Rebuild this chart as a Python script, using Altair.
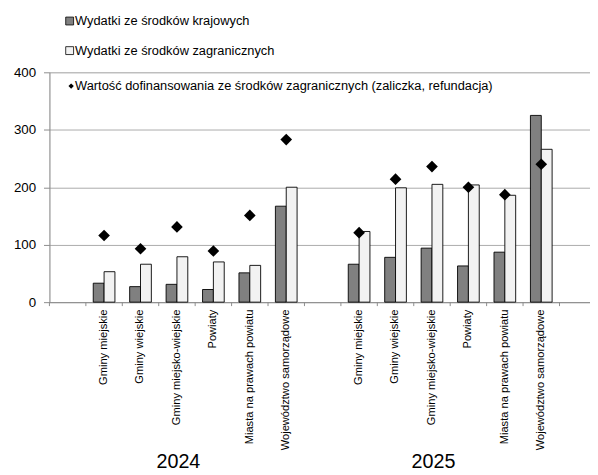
import altair as alt
import pandas as pd

# ---- data ----
categories = ["Gminy miejskie", "Gminy wiejskie", "Gminy miejsko-wiejskie",
              "Powiaty", "Miasta na prawach powiatu", "Województwo samorządowe"]
years = ["2024", "2025"]
krajowe_2024 = [33, 27, 31, 22, 51, 167]
zagraniczne_2024 = [53, 66, 79, 70, 64, 200]
dofinansowanie_2024 = [116, 93, 131, 89, 151, 283]
krajowe_2025 = [66, 78, 94, 63, 87, 325]
zagraniczne_2025 = [123, 199, 205, 204, 186, 266]
dofinansowanie_2025 = [121, 214, 236, 200, 187, 240]
series_names = ["Wydatki ze środków krajowych",
                "Wydatki ze środków zagranicznych",
                "Wartość dofinansowania ze środków zagranicznych (zaliczka, refundacja)"]
y_ticks = [0, 100, 200, 300, 400]

FONT = "Liberation Sans"
W, H = 548, 233

# slot domain: empty slot, 6 categories 2024, empty slot, 6 categories 2025, empty slot
slots = ["_0"] + [f"2024|{c}" for c in categories] + ["_1"] + \
        [f"2025|{c}" for c in categories] + ["_2"]

bars_rows = []
pts_rows = []
for yr, kr, zg, df_ in [("2024", krajowe_2024, zagraniczne_2024, dofinansowanie_2024),
                        ("2025", krajowe_2025, zagraniczne_2025, dofinansowanie_2025)]:
    for c, a, b, d in zip(categories, kr, zg, df_):
        s = f"{yr}|{c}"
        bars_rows.append({"slot": s, "series": series_names[0], "value": a})
        bars_rows.append({"slot": s, "series": series_names[1], "value": b})
        pts_rows.append({"slot": s, "value": d})
bars_df = pd.DataFrame(bars_rows)
pts_df = pd.DataFrame(pts_rows)
slots_df = pd.DataFrame({"slot": slots})
years_df = pd.DataFrame({"year": years, "slot": [f"{y}|Powiaty" for y in years]})

xscale = alt.Scale(domain=slots, range=[0, 554], paddingInner=0, paddingOuter=0)

bars = alt.Chart(bars_df).mark_bar(stroke="black", strokeWidth=0.9).encode(
    x=alt.X("slot:N", scale=xscale, sort=slots, title=None,
            axis=alt.Axis(labelAngle=-90, ticks=False, labelPadding=7,
                          labelFontSize=11.3, labelFont=FONT, labelColor="black",
                          domainColor="#8c8c8c", labelLimit=300,
                          labelExpr="indexof(datum.value,'|')>0 ? split(datum.value,'|')[1] : ''")),
    xOffset=alt.XOffset("series:N", sort=series_names[:2],
                        scale=alt.Scale(domain=series_names[:2], paddingOuter=0.68, paddingInner=0)),
    y=alt.Y("value:Q", scale=alt.Scale(domain=[0, 400]), title=None,
            axis=alt.Axis(values=y_ticks, grid=True, gridColor="#ababab",
                          domainColor="#8c8c8c", tickColor="#8c8c8c", tickSize=6,
                          labelPadding=8, labelFont=FONT, labelFontSize=13.5,
                          labelColor="black")),
    fill=alt.Fill("series:N", scale=alt.Scale(domain=series_names[:2],
                                              range=["#808080", "#f2f2f2"]), legend=None),
)

points = alt.Chart(pts_df).mark_point(shape="diamond", filled=True, color="black",
                                      size=140, opacity=1).encode(
    x=alt.X("slot:N", scale=xscale, sort=slots),
    y=alt.Y("value:Q"),
)

ticks = alt.Chart(slots_df).mark_rule(color="#8c8c8c", strokeWidth=1).encode(
    x=alt.X("slot:N", scale=xscale, sort=slots, bandPosition=0),
    y=alt.value(H),
    y2=alt.value(H + 4),
)

year_text = alt.Chart(years_df).mark_text(font=FONT, fontSize=20, color="black",
                                          baseline="middle", dx=-17).encode(
    x=alt.X("slot:N", scale=xscale, sort=slots, bandPosition=0),
    y=alt.value(H + 162),
    text="year:N",
)

# manual legend (pixel layout relative to plot origin)
legend_layers = []
legend_y = [-52, -22, 14]
legend_x = [20.5, 20.5, 22]
legend_shapes = ["square", "square", "diamond"]
legend_fill = ["#808080", "#f2f2f2", "black"]
legend_size = [64, 64, 30]
for name, lx, ly, shp, fc, sz in zip(series_names, legend_x, legend_y, legend_shapes,
                                     legend_fill, legend_size):
    ldf = pd.DataFrame({"label": [name]})
    sym = alt.Chart(ldf).mark_point(shape=shp, filled=True, fill=fc,
                                    stroke="black" if shp == "square" else None,
                                    strokeWidth=0.8, size=sz, opacity=1).encode(
        x=alt.value(lx), y=alt.value(ly))
    txt = alt.Chart(ldf).mark_text(font=FONT, fontSize=13, color="black", align="left",
                                   baseline="middle").encode(
        x=alt.value(26), y=alt.value(ly), text="label:N")
    legend_layers += [sym, txt]

chart = alt.layer(bars, points, ticks, year_text, *legend_layers).properties(
    width=W, height=H,
    autosize=alt.AutoSizeParams(type="none"),
    padding={"left": 42, "top": 62, "right": 0, "bottom": 170},
).configure_view(stroke=None).configure(font=FONT)

chart.save("out.html", embed_options={"renderer": "svg", "actions": False})
